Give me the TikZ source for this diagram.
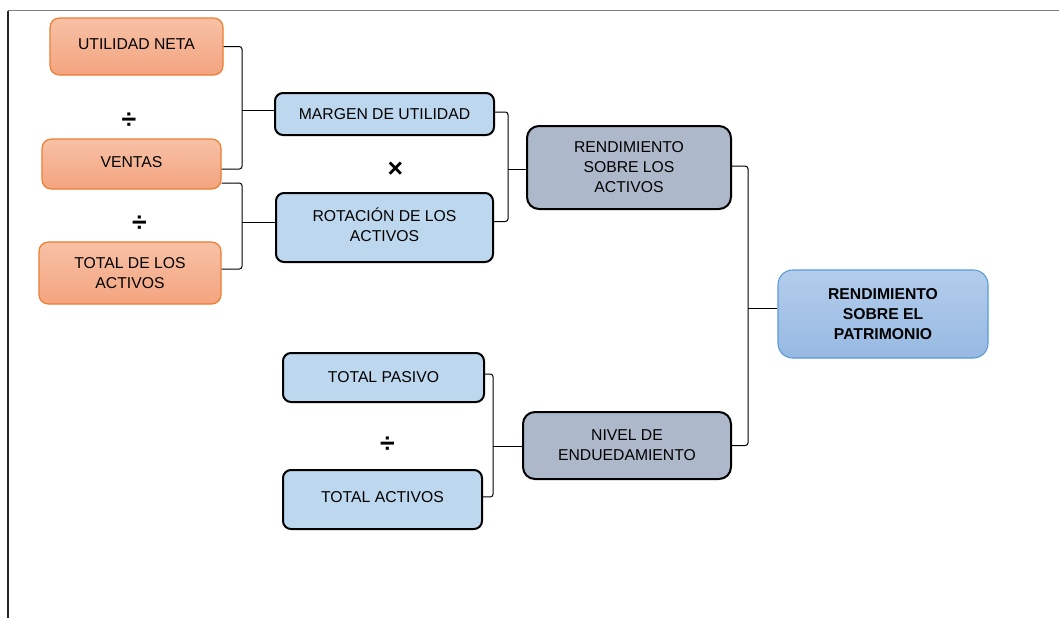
\documentclass[tikz,border=0pt]{standalone}
\usepackage{fontspec}
\setmainfont{Liberation Sans}
\definecolor{orangeB}{HTML}{ED7D31}
\definecolor{orangeT}{HTML}{F7C1A6}
\definecolor{orangeBot}{HTML}{F4A47F}
\definecolor{lblueF}{HTML}{BDD7EE}
\definecolor{grayF}{HTML}{ADB9CA}
\definecolor{rspB}{HTML}{5B9BD5}
\definecolor{rspT}{HTML}{B3CDEC}
\definecolor{rspBot}{HTML}{97B9E2}
\newcommand{\liftxt}[2]{\raisebox{#1}{\begin{tabular}{@{}c@{}}#2\end{tabular}}}
\tikzset{
  base/.style={inner sep=0pt, align=center, font=\fontsize{11.8}{15}\selectfont},
  orng/.style={base, rounded corners=7pt, draw=orangeB, line width=0.9pt, top color=orangeT, bottom color=orangeBot},
  lblue/.style={base, rounded corners=6pt, draw=black, line width=1.5pt, fill=lblueF},
  gblue/.style={base, rounded corners=9pt, draw=black, line width=1.5pt, fill=grayF},
  rspbox/.style={base, rounded corners=11pt, draw=rspB, line width=0.8pt, top color=rspT, bottom color=rspBot, font=\bfseries\fontsize{11.8}{15}\selectfont},
  sz/.style 2 args={minimum width=#1*0.75pt, minimum height=#2*0.75pt},
  conn/.style={draw=black, line width=0.75pt, rounded corners=2pt},
  op/.style={font=\bfseries\fontsize{20}{20}\selectfont, inner sep=0pt}
}
\begin{document}
\begin{tikzpicture}[x=0.75pt,y=-0.75pt]
\useasboundingbox (0,0) rectangle (1059,618);
% frame
\draw[draw=gray, line width=0.9pt] (8,10.5) -- (1059,10.5);
\draw[draw=black!85, line width=0.8pt] (8,10.5) -- (8,618);

% nodes
\node[orng, sz={173}{57}] (un) at (136.5,46.5) {\raisebox{3.75pt}{UTILIDAD NETA}};
\node[orng, sz={179}{50}] (ve) at (131.5,164) {\raisebox{2.25pt}{VENTAS}};
\node[orng, sz={182}{62}] (ta) at (130,273) {TOTAL DE LOS\\ACTIVOS};
\node[lblue, sz={219}{42}] (mu) at (384.5,114) {MARGEN DE UTILIDAD};
\node[lblue, sz={217}{69}] (ra) at (384.5,227.5) {\liftxt{2.6pt}{ROTACIÓN DE LOS\\ACTIVOS}};
\node[gblue, sz={204}{83}] (rsa) at (629,167.5) {RENDIMIENTO\\SOBRE LOS\\ACTIVOS};
\node[rspbox, sz={210}{88}] (rsp) at (883,314) {RENDIMIENTO\\SOBRE EL\\PATRIMONIO};
\node[gblue, sz={208}{67}] (ne) at (627,445.5) {NIVEL DE\\ENDUEDAMIENTO};
\node[lblue, sz={201}{49}] (tp) at (383.5,377.5) {TOTAL PASIVO};
\node[lblue, sz={199}{59}] (tac) at (382.5,499.5) {\raisebox{4.5pt}{TOTAL ACTIVOS}};

% operators
\node[op] (d1) at (129,121) {÷};
\node[op] (d2) at (139.5,224) {÷};
\node[op] (m1) at (395.5,170) {×};
\node[op] (d3) at (387.5,444.5) {÷};

% junctions
\coordinate (j1) at (242,110);
\coordinate (j2) at (242,222.5);
\coordinate (j3) at (508,169);
\coordinate (j4) at (748,308);
\coordinate (j5) at (493,446);

% connectors
\draw[conn] (un.east) -| (j1) |- ([yshift=-3.75pt]ve.east);
\draw[conn] (j1) -- (j1 -| mu.west);
\draw[conn] ([yshift=-14.25pt]ve.east) -| (j2) |- ([yshift=3pt]ta.east);
\draw[conn] (j2) -- (j2 -| ra.west);
\draw[conn] ([yshift=1.5pt]mu.east) -| (j3) |- ([yshift=4.5pt]ra.east);
\draw[conn] (j3) -- (j3 -| rsa.west);
\draw[conn] ([yshift=1pt]rsa.east) -| (j4) |- (ne.east);
\draw[conn] (j4) -- (j4 -| rsp.west);
\draw[conn] ([yshift=2.6pt]tp.east) -| (j5) |- ([yshift=1.9pt]tac.east);
\draw[conn] (j5) -- (j5 -| ne.west);
\end{tikzpicture}
\end{document}
